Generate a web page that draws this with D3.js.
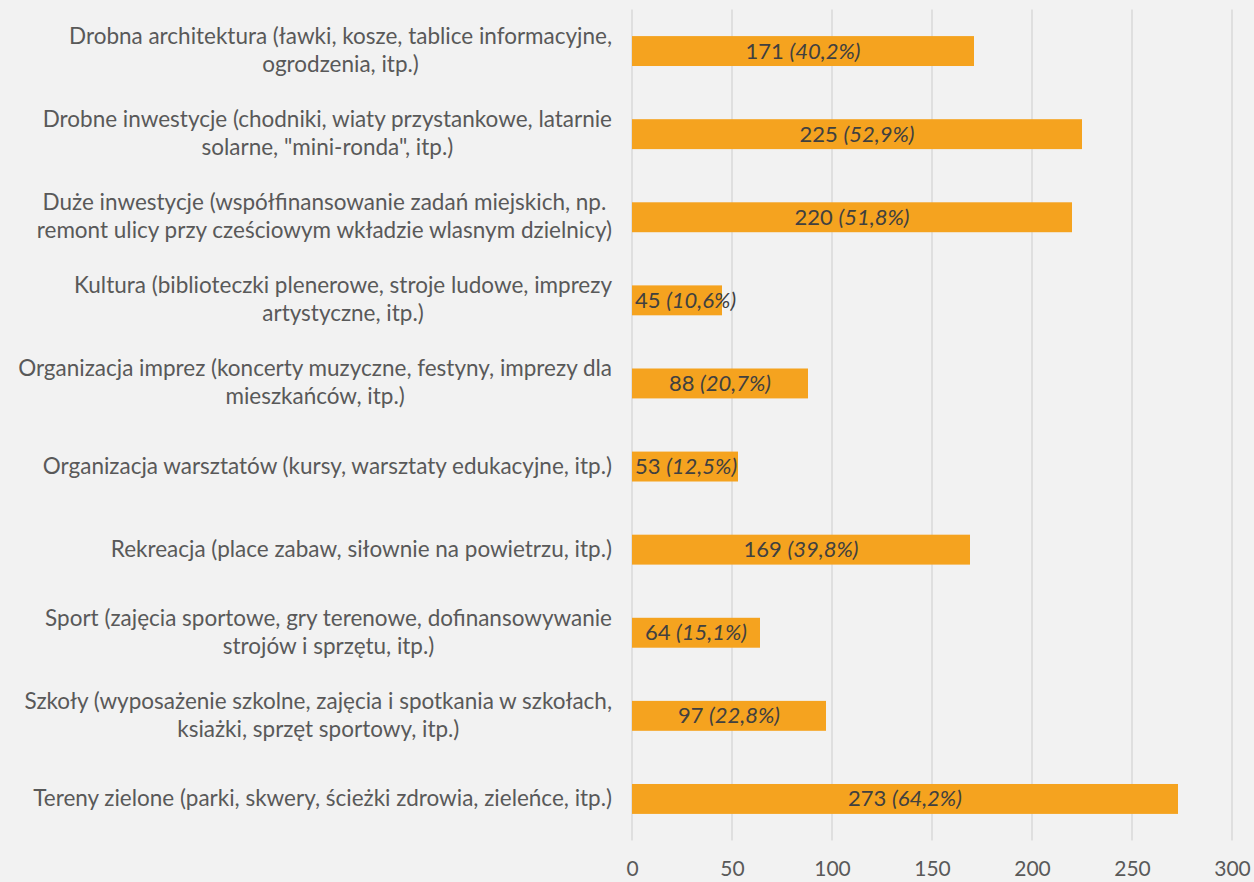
<!DOCTYPE html>
<html>
<head>
<meta charset="utf-8">
<script src="https://cdn.jsdelivr.net/npm/d3@7"></script>
<style>
  body { margin: 0; background: #f2f2f2; }
  svg { display: block; font-family: Lato, "Open Sans", sans-serif; }
</style>
</head>
<body>
<script>
// categories, each split into the lines as they wrap in the chart
var categories = [
    ["Drobna architektura (ławki, kosze, tablice informacyjne,", "ogrodzenia, itp.)"],
    ["Drobne inwestycje (chodniki, wiaty przystankowe, latarnie", "solarne, \"mini-ronda\", itp.)"],
    ["Duże inwestycje (współfinansowanie zadań miejskich, np.", "remont ulicy przy cześciowym wkładzie wlasnym dzielnicy)"],
    ["Kultura (biblioteczki plenerowe, stroje ludowe, imprezy", "artystyczne, itp.)"],
    ["Organizacja imprez (koncerty muzyczne, festyny, imprezy dla", "mieszkańców, itp.)"],
    ["Organizacja warsztatów (kursy, warsztaty edukacyjne, itp.)"],
    ["Rekreacja (place zabaw, siłownie na powietrzu, itp.)"],
    ["Sport (zajęcia sportowe, gry terenowe, dofinansowywanie", "strojów i sprzętu, itp.)"],
    ["Szkoły (wyposażenie szkolne, zajęcia i spotkania w szkołach,", "ksiażki, sprzęt sportowy, itp.)"],
    ["Tereny zielone (parki, skwery, ścieżki zdrowia, zieleńce, itp.)"]
];
var counts = [171, 225, 220, 45, 88, 53, 169, 64, 97, 273];
var percents = ["40,2%", "52,9%", "51,8%", "10,6%", "20,7%", "12,5%", "39,8%", "15,1%", "22,8%", "64,2%"];
var ticks = [0, 50, 100, 150, 200, 250, 300];

var width = 1254, height = 882;
var plotLeft = 632, plotRight = 1232, plotTop = 9.5, plotBottom = 840.5;

var svg = d3.select("body").append("svg")
    .attr("width", width)
    .attr("height", height);

svg.append("rect")
    .attr("width", width)
    .attr("height", height)
    .attr("fill", "#f2f2f2");

var x = d3.scaleLinear().domain([0, 300]).range([plotLeft, plotRight]);
var y = d3.scaleBand()
    .domain(d3.range(categories.length))
    .range([plotTop, plotBottom])
    .paddingInner(0.64)
    .paddingOuter(0.32);

// gridlines
svg.append("g")
    .selectAll("line")
    .data(ticks)
    .enter()
    .append("line")
    .attr("x1", function(d) { return x(d); })
    .attr("x2", function(d) { return x(d); })
    .attr("y1", plotTop)
    .attr("y2", plotBottom)
    .attr("stroke", "#d9d9d9")
    .attr("stroke-width", 1.5);

// tick labels
var xAxis = svg.append("g")
    .attr("transform", "translate(0," + plotBottom + ")")
    .call(d3.axisBottom(x).tickValues(ticks).tickSize(0).tickPadding(21));
xAxis.select(".domain").remove();
xAxis.selectAll("text")
    .attr("font-family", "Lato, sans-serif")
    .attr("font-size", 21)
    .attr("fill", "#595959");

// bars
svg.append("g")
    .selectAll("rect")
    .data(counts)
    .enter()
    .append("rect")
    .attr("x", x(0))
    .attr("y", function(d, i) { return y(i); })
    .attr("width", function(d) { return x(d) - x(0); })
    .attr("height", y.bandwidth())
    .attr("fill", "#f5a31f");

// value labels
var vals = svg.append("g")
    .selectAll("text")
    .data(counts)
    .enter()
    .append("text")
    .attr("y", function(d, i) { return y(i) + y.bandwidth() / 2 + 7.5; })
    .attr("text-anchor", "middle")
    .attr("font-size", 22)
    .attr("fill", "#404040");
vals.append("tspan").text(function(d) { return d + " "; });
vals.append("tspan")
    .attr("font-style", "italic")
    .text(function(d, i) { return "(" + percents[i] + ")"; });
vals.attr("x", function(d) {
    var w = this.getComputedTextLength();
    var cx = (x(0) + x(d)) / 2;
    return Math.max(cx, x(0) + 3 + w / 2);
});

// category labels, lines centred, block right aligned
var labelRight = 612;
var cats = svg.append("g")
    .selectAll("text")
    .data(categories)
    .enter()
    .append("text")
    .attr("text-anchor", "middle")
    .attr("font-size", 20)
    .attr("fill", "#595959");
cats.each(function(lines, i) {
    var t = d3.select(this);
    var cy = y(i) + y.bandwidth() / 2;
    var first = cy + 7 - (lines.length - 1) * 14;
    lines.forEach(function(line, k) {
        t.append("tspan")
            .attr("y", first + k * 28)
            .text(line);
    });
});
// scale font so the widest line matches the reference width
var widest = 0;
cats.selectAll("tspan").each(function() {
    widest = Math.max(widest, this.getComputedTextLength());
});
var fs = 20 * 594 / widest;
cats.attr("font-size", fs);
cats.each(function() {
    var t = d3.select(this);
    var w = 0;
    t.selectAll("tspan").each(function() { w = Math.max(w, this.getComputedTextLength()); });
    t.selectAll("tspan").attr("x", labelRight - w / 2);
});
</script>
</body>
</html>
